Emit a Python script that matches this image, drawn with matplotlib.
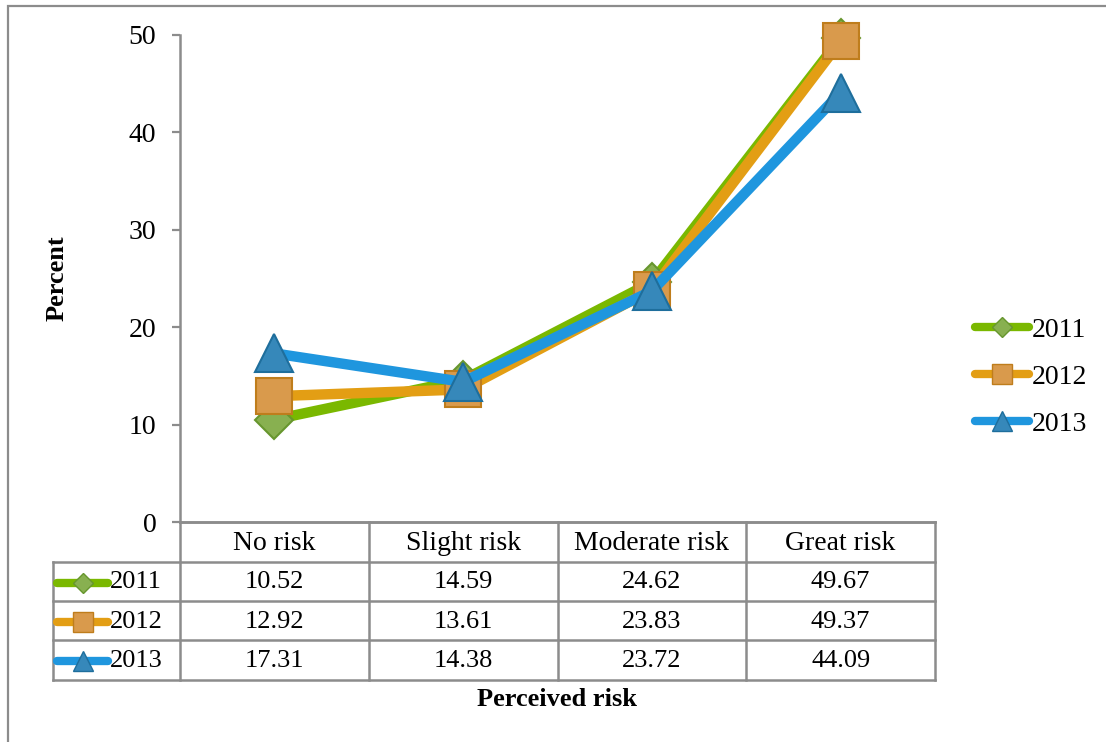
import matplotlib
matplotlib.use("Agg")
import matplotlib.pyplot as plt
from matplotlib.lines import Line2D
from matplotlib.patches import Rectangle

# Data
categories = ["No risk", "Slight risk", "Moderate risk", "Great risk"]
years = ["2011", "2012", "2013"]
values_2011 = [10.52, 14.59, 24.62, 49.67]
values_2012 = [12.92, 13.61, 23.83, 49.37]
values_2013 = [17.31, 14.38, 23.72, 44.09]
yticks = [0, 10, 20, 30, 40, 50]

series = [values_2011, values_2012, values_2013]

# Styles per series
line_colors = ["#7AB800", "#E39E14", "#1F96DE"]
markers = ["D", "s", "^"]
face_colors = ["#88B050", "#D99A4C", "#3688BA"]
edge_colors = ["#67962E", "#BF7D1C", "#1E6E9C"]
marker_sizes = [19, 26, 27]

W, H = 1106, 742
fig = plt.figure(figsize=(W / 100, H / 100), dpi=100)
plt.rcParams["font.family"] = ["Liberation Serif", "DejaVu Serif"]


def fx(px):
    return px / W


def fy(py):
    return 1 - py / H


grey = "#8C8C8C"

# Outer frame
fig.patches.append(Rectangle((fx(8), fy(760)), fx(1200), fy(6) - fy(760),
                             transform=fig.transFigure, fill=False,
                             edgecolor=grey, linewidth=1.6))

ax_left, ax_right, ax_top, ax_bot = 180, 935, 35, 522
ax = fig.add_axes([fx(ax_left), fy(ax_bot), fx(ax_right - ax_left),
                   fy(ax_top) - fy(ax_bot)])
x = list(range(len(categories)))

for vals, lc, m, fc, ec, ms, yr in zip(series, line_colors, markers,
                                        face_colors, edge_colors,
                                        marker_sizes, years):
    ax.plot(x, vals, color=lc, linewidth=7.5, marker=m, markersize=ms,
            markerfacecolor=fc, markeredgecolor=ec, markeredgewidth=1.5,
            solid_capstyle="round", solid_joinstyle="round", label=yr,
            clip_on=False, zorder=3)

ax.set_xlim(-0.5, len(categories) - 0.5)
ax.set_ylim(0, 50)
ax.set_yticks(yticks)
ax.set_yticklabels([str(t) for t in yticks], fontsize=20)
ax.set_xticks([])
for s in ["top", "right"]:
    ax.spines[s].set_visible(False)
ax.spines["left"].set_color(grey)
ax.spines["left"].set_linewidth(1.8)
ax.spines["bottom"].set_color(grey)
ax.spines["bottom"].set_linewidth(1.8)
ax.tick_params(axis="y", direction="out", length=6, width=1.6, color=grey,
               pad=11)

ax.set_ylabel("Percent", fontsize=19, fontweight="bold", labelpad=0)
ax.yaxis.set_label_coords(fx(69 - ax_left) / fx(ax_right - ax_left),
                          (fy(278) - fy(ax_bot)) / (fy(ax_top) - fy(ax_bot)))

# Data table below the plot
row_lines = [522, 562, 601, 640, 680]
col_edges = [180, 368.75, 557.5, 746.25, 935]
left_col = 53
lkw = dict(color=grey, linewidth=1.8, transform=fig.transFigure,
           solid_capstyle="projecting")

# horizontal lines
fig.add_artist(Line2D([fx(180), fx(935)], [fy(522)] * 2, **lkw))
for ry in row_lines[1:]:
    fig.add_artist(Line2D([fx(left_col), fx(935)], [fy(ry)] * 2, **lkw))
# vertical lines
for cx in col_edges:
    fig.add_artist(Line2D([fx(cx)] * 2, [fy(522), fy(680)], **lkw))
fig.add_artist(Line2D([fx(left_col)] * 2, [fy(562), fy(680)], **lkw))

# header texts
for i, cat in enumerate(categories):
    cxm = (col_edges[i] + col_edges[i + 1]) / 2
    fig.text(fx(cxm), fy((row_lines[0] + row_lines[1]) / 2 + 1), cat,
             ha="center", va="center", fontsize=20)

# row texts and series keys
for r, (vals, lc, m, fc, ec, ms, yr) in enumerate(
        zip(series, line_colors, markers, face_colors, edge_colors,
            marker_sizes, years)):
    ymid = (row_lines[r + 1] + row_lines[r + 2]) / 2 + 1
    for i, v in enumerate(vals):
        cxm = (col_edges[i] + col_edges[i + 1]) / 2
        fig.text(fx(cxm), fy(ymid), f"{v:.2f}", ha="center", va="center",
                 fontsize=19)
    fig.add_artist(Line2D([fx(57), fx(108)], [fy(ymid)] * 2, color=lc,
                          linewidth=6, solid_capstyle="round",
                          transform=fig.transFigure))
    fig.add_artist(Line2D([fx(83)], [fy(ymid)], marker=m,
                          markersize=ms * 0.55, markerfacecolor=fc,
                          markeredgecolor=ec, markeredgewidth=1,
                          linestyle="none", transform=fig.transFigure))
    fig.text(fx(110), fy(ymid), yr, ha="left", va="center", fontsize=19)

fig.text(fx(557), fy(700), "Perceived risk", ha="center", va="center",
         fontsize=19, fontweight="bold")

# Legend to the right of the plot
handles = []
for lc, m, fc, ec, ms, yr in zip(line_colors, markers, face_colors,
                                 edge_colors, marker_sizes, years):
    handles.append(Line2D([0], [0], color=lc, linewidth=6,
                          solid_capstyle="round", marker=m,
                          markersize=ms * 0.55, markerfacecolor=fc,
                          markeredgecolor=ec, markeredgewidth=1, label=yr))
fig.legend(handles=handles, loc="center left",
           bbox_to_anchor=(fx(975), fy(377)), frameon=False, fontsize=20,
           handlelength=1.95, handletextpad=0.1, labelspacing=0.78,
           borderpad=0, borderaxespad=0)

fig.savefig("out.png", dpi=100)
